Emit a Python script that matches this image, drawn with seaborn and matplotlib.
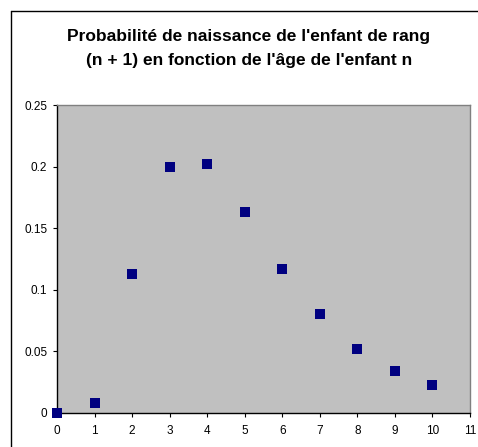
import matplotlib
matplotlib.use("Agg")
import matplotlib.pyplot as plt
from matplotlib.lines import Line2D
import seaborn as sns
import pandas as pd

ages = [0, 1, 2, 3, 4, 5, 6, 7, 8, 9, 10]
probabilities = [0.0, 0.008, 0.113, 0.200, 0.202, 0.163, 0.117, 0.080, 0.052, 0.034, 0.0225]
x_ticks = list(range(0, 12))
y_ticks = [0, 0.05, 0.1, 0.15, 0.2, 0.25]
y_tick_labels = ["0", "0.05", "0.1", "0.15", "0.2", "0.25"]
title_lines = ["Probabilité de naissance de l'enfant de rang",
               "(n + 1) en fonction de l'âge de l'enfant n"]

sns.set_style("white")
plt.rcParams['font.family'] = ['Liberation Sans', 'DejaVu Sans']

df = pd.DataFrame({"age": ages, "p": probabilities})

fig = plt.figure(figsize=(4.78, 4.47), dpi=100)
ax = fig.add_axes([57/478, 1 - 412.7/447, (470-57)/478, (412.7-105.3)/447])
ax.set_facecolor("#C0C0C0")

sns.scatterplot(data=df, x="age", y="p", ax=ax, marker="s", s=52,
                color="#000080", edgecolor="none", linewidth=0, clip_on=False, zorder=5)

ax.set_xlim(0, 11)
ax.set_ylim(0, 0.25)
ax.set_xticks(x_ticks)
ax.set_xticklabels([str(t) for t in x_ticks])
ax.set_yticks(y_ticks)
ax.set_yticklabels(y_tick_labels)
ax.set_xlabel("")
ax.set_ylabel("")
ax.grid(False)

ax.tick_params(axis="both", which="major", direction="out", length=3, width=0.8,
               labelsize=8.5, colors="black", bottom=True, left=True)
ax.tick_params(axis="x", pad=6)
ax.tick_params(axis="y", pad=4)

for side in ["left", "bottom"]:
    ax.spines[side].set_color("black")
    ax.spines[side].set_linewidth(1.0)
for side in ["top", "right"]:
    ax.spines[side].set_color("#808080")
    ax.spines[side].set_linewidth(1.0)

for line, baseline in zip(title_lines, [40.5, 65.0]):
    fig.text(249/478, 1 - baseline/447, line, ha="center", va="baseline",
             color="black", fontsize=12.5, fontweight="bold")

# outer chart frame (cropped on right and bottom)
fig.add_artist(Line2D([11/478, 1.0], [1 - 10.5/447, 1 - 10.5/447],
                      transform=fig.transFigure, color="black", linewidth=1.0))
fig.add_artist(Line2D([11/478, 11/478], [0.0, 1 - 10.5/447],
                      transform=fig.transFigure, color="black", linewidth=1.0))

fig.savefig("out.png", dpi=100, facecolor="white")
